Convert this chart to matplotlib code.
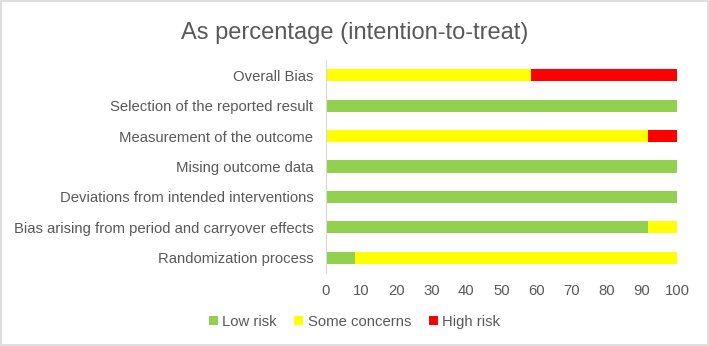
import matplotlib
matplotlib.use('Agg')
import matplotlib.pyplot as plt
import numpy as np

plt.rcParams['font.family'] = ['Liberation Sans', 'DejaVu Sans']

domains = ['Randomization process',
           'Bias arising from period and carryover effects',
           'Deviations from intended interventions',
           'Mising outcome data',
           'Measurement of the outcome',
           'Selection of the reported result',
           'Overall Bias']
low_risk = [8.33, 91.67, 100, 100, 0, 100, 0]
some_concerns = [91.67, 8.33, 0, 0, 91.67, 0, 58.33]
high_risk = [0, 0, 0, 0, 8.33, 0, 41.67]

text_col = '#595959'

fig = plt.figure(figsize=(7.09, 3.46), dpi=100)
ax = fig.add_axes([0.4598, 0.211, 0.4952, 0.6156])

y = np.arange(len(domains))
low = np.array(low_risk)
some = np.array(some_concerns)
high = np.array(high_risk)
h = 0.4
ax.barh(y, low, height=h, color='#92D050', label='Low risk')
ax.barh(y, some, height=h, left=low, color='#FFFF00', label='Some concerns')
ax.barh(y, high, height=h, left=low + some, color='#FF0000', label='High risk')

ax.set_xlim(0, 100)
ax.set_ylim(-0.5, len(domains) - 0.5)
ax.set_xticks(range(0, 101, 10))
ax.set_yticks(y)
ax.set_yticklabels(domains)
ax.tick_params(axis='both', length=0, labelsize=10.7, labelcolor=text_col)
ax.tick_params(axis='x', pad=8)
ax.tick_params(axis='y', pad=9)
for s in ['top', 'right', 'bottom']:
    ax.spines[s].set_visible(False)
ax.spines['left'].set_color('#D9D9D9')

fig.text(0.5, 0.905, 'As percentage (intention-to-treat)', ha='center', va='center',
         fontsize=17, color=text_col)

leg = fig.legend(loc='center', bbox_to_anchor=(0.5, 0.07), ncol=3, frameon=False,
                 fontsize=10.7, handlelength=0.6, handleheight=0.6, handletextpad=0.3,
                 columnspacing=1.2)
for t in leg.get_texts():
    t.set_color(text_col)

fig.patches.append(plt.Rectangle((0.002, 0.003), 0.996, 0.994, transform=fig.transFigure,
                                 fill=False, edgecolor='#D9D9D9', linewidth=1.2))

fig.savefig('out.png', dpi=100)
